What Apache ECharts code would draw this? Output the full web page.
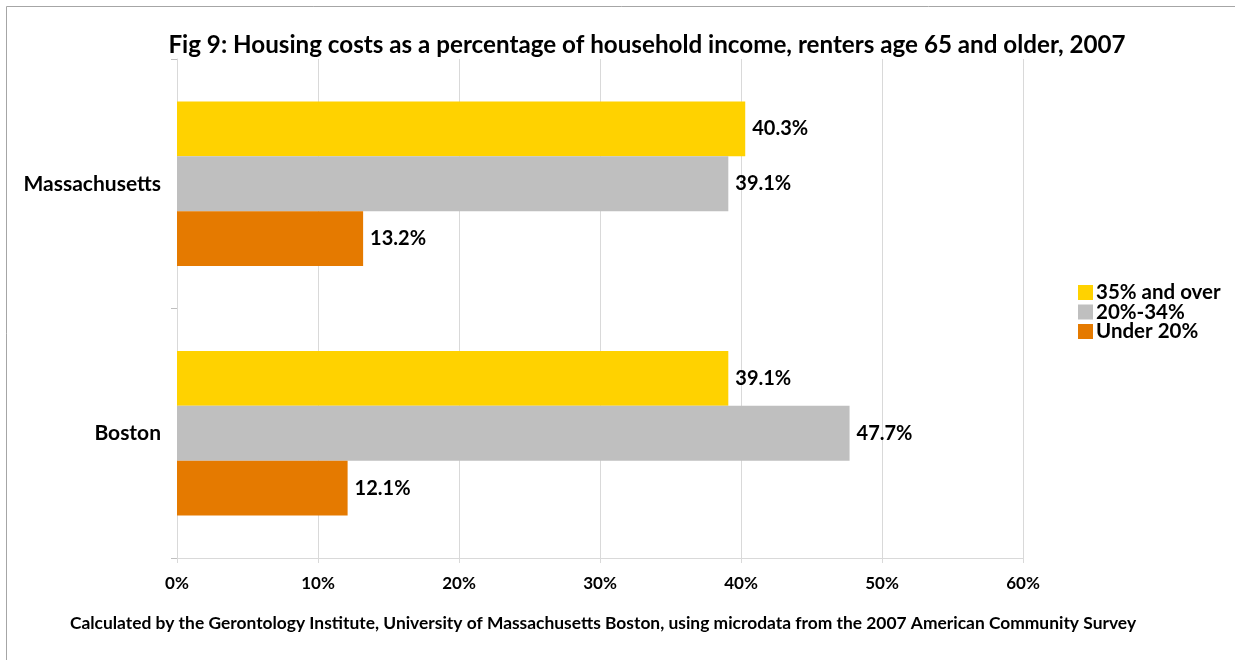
<!DOCTYPE html>
<html>
<head>
<meta charset="utf-8">
<title>Fig 9</title>
<script src="https://cdn.jsdelivr.net/npm/echarts@6/dist/echarts.min.js"></script>
<style>
  html, body { margin: 0; padding: 0; background: #fff; }
  #chart { width: 1235px; height: 660px; }
</style>
</head>
<body>
<div id="chart"></div>
<script>
// data
const places = ['Boston', 'Massachusetts'];
const under20 = [12.1, 13.2];
const mid20to34 = [47.7, 39.1];
const over35 = [39.1, 40.3];
const xTicks = [0, 10, 20, 30, 40, 50, 60];

const fontFam = 'Lato, "Open Sans", sans-serif';

const labelStyle = {
  show: true,
  position: 'right',
  distance: 7,
  color: '#000',
  fontWeight: 'bold',
  fontSize: 20,
  fontFamily: fontFam,
  formatter: p => p.value.toFixed(1) + '%'
};

const myChart = echarts.init(document.getElementById('chart'));

const options = {
  animation: false,
  textStyle: { fontFamily: fontFam },
  title: [
    {
      text: 'Fig 9: Housing costs as a percentage of household income, renters age 65 and older, 2007',
      left: 642,
      textAlign: 'center',
      top: 28,
      textStyle: { fontSize: 24.2, fontWeight: 'bold', color: '#000', fontFamily: fontFam }
    },
    {
      text: 'Calculated by the Gerontology Institute, University of Massachusetts Boston, using microdata from the 2007 American Community Survey',
      left: 598,
      textAlign: 'center',
      top: 610,
      textStyle: { fontSize: 17.4, fontWeight: 'bold', color: '#000', fontFamily: fontFam }
    }
  ],
  graphic: [
    {
      type: 'rect',
      shape: { x: 6.5, y: 6.5, width: 1240, height: 700 },
      style: { fill: 'none', stroke: '#a6a6a6', lineWidth: 1 },
      silent: true
    }
  ],
  legend: {
    orient: 'vertical',
    left: 1073,
    top: 277,
    icon: 'rect',
    itemWidth: 15,
    itemHeight: 15,
    itemGap: -1.5,
    data: ['35% and over', '20%-34%', 'Under 20%'],
    textStyle: { fontSize: 20.5, fontWeight: 'bold', color: '#000', fontFamily: fontFam, padding: [0, 0, 0, -2] }
  },
  grid: {
    left: 177,
    right: 212,
    top: 59,
    bottom: 102,
    containLabel: false
  },
  xAxis: {
    type: 'value',
    min: xTicks[0],
    max: xTicks[xTicks.length - 1],
    interval: 10,
    axisLine: { show: true, lineStyle: { color: '#d9d9d9', width: 1 } },
    axisTick: { show: true, length: 5, lineStyle: { color: '#d9d9d9' } },
    splitLine: { show: true, lineStyle: { color: '#d9d9d9', width: 1 } },
    axisLabel: {
      margin: 17,
      color: '#000',
      fontWeight: 'bold',
      fontSize: 17,
      fontFamily: fontFam,
      formatter: v => v + '%'
    }
  },
  yAxis: {
    type: 'category',
    data: places,
    axisLine: { show: true, lineStyle: { color: '#d9d9d9', width: 1 } },
    axisTick: { show: true, length: 6, lineStyle: { color: '#bfbfbf' } },
    splitLine: { show: false },
    axisLabel: {
      margin: 16,
      color: '#000',
      fontWeight: 'bold',
      fontSize: 21,
      fontFamily: fontFam
    }
  },
  series: [
    {
      name: '35% and over',
      type: 'bar',
      data: over35,
      itemStyle: { color: '#ffd200' },
      barGap: '0%',
      barCategoryGap: '34%',
      label: labelStyle
    },
    {
      name: '20%-34%',
      type: 'bar',
      data: mid20to34,
      itemStyle: { color: '#bfbfbf' },
      barGap: '0%',
      barCategoryGap: '34%',
      label: labelStyle
    },
    {
      name: 'Under 20%',
      type: 'bar',
      data: under20,
      itemStyle: { color: '#e57a00' },
      barGap: '0%',
      barCategoryGap: '34%',
      label: labelStyle
    }
  ]
};

myChart.setOption(options);
window.addEventListener('resize', () => myChart.resize());
</script>
</body>
</html>
